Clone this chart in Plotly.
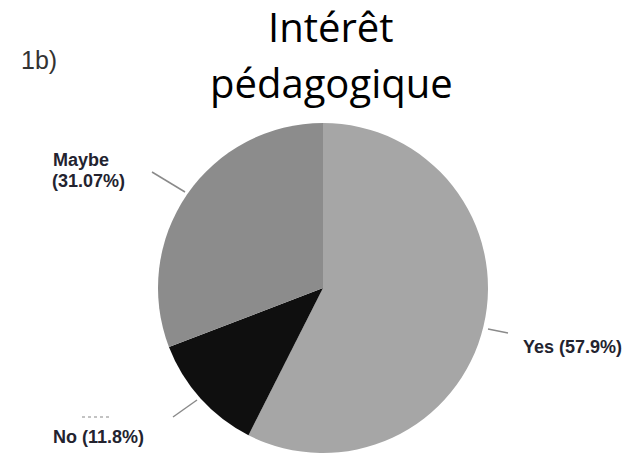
import plotly.graph_objects as go

labels = ["Yes", "No", "Maybe"]
values = [57.9, 11.8, 31.07]
colors = ["#a6a6a6", "#0f0f0f", "#8c8c8c"]
title_lines = ["Intérêt", "pédagogique"]
panel_label = "1b)"

W, H = 631, 453

def px(x):
    return x / W

def py(y):
    return 1 - y / H

fig = go.Figure(go.Pie(
    labels=labels, values=values, sort=False, direction="clockwise",
    rotation=0, marker=dict(colors=colors, line=dict(width=0)),
    textinfo="none", hoverinfo="label+percent", showlegend=False,
    domain=dict(x=[px(323 - 165), px(323 + 165)], y=[py(288 + 165), py(288 - 165)]),
))

lab_font = dict(family="Liberation Sans", size=18, color="#23232f")

def label(x, y, txt):
    fig.add_annotation(x=px(x), y=py(y), xref="paper", yref="paper", xanchor="left", yanchor="middle",
                       text="<b>" + txt + "</b>", showarrow=False, align="left", font=lab_font)

lab = {l: (l, f"({v}%)") for l, v in zip(labels, values)}
label(51, 160, lab["Maybe"][0])
label(50, 181, lab["Maybe"][1])
label(521, 347, lab["Yes"][0] + " " + lab["Yes"][1])
label(51, 437, lab["No"][0] + " " + lab["No"][1])

lead = dict(color="#8a8a8a", width=1.5)
for (x0, y0, x1, y1) in [(152, 172, 185, 192), (488, 329, 508, 333), (173, 417, 197, 400)]:
    fig.add_shape(type="line", xref="paper", yref="paper", x0=px(x0), y0=py(y0), x1=px(x1), y1=py(y1), line=lead)
fig.add_shape(type="line", xref="paper", yref="paper", x0=px(82), y0=py(417), x1=px(110), y1=py(417),
              line=dict(color="#b0b0b0", width=1.5, dash="dot"))

tfont = dict(family="Open Sans", size=40, color="#000000")
fig.add_annotation(x=px(331), y=py(27), xref="paper", yref="paper", xanchor="center", yanchor="middle",
                   text=title_lines[0], showarrow=False, font=tfont)
fig.add_annotation(x=px(331), y=py(82), xref="paper", yref="paper", xanchor="center", yanchor="middle",
                   text=title_lines[1], showarrow=False, font=tfont)
fig.add_annotation(x=px(19), y=py(60), xref="paper", yref="paper", xanchor="left", yanchor="middle",
                   text=panel_label, showarrow=False, font=dict(family="Liberation Sans", size=25, color="#333333"))

fig.update_layout(width=W, height=H, margin=dict(l=0, r=0, t=0, b=0),
                  paper_bgcolor="white", plot_bgcolor="white")
fig.write_html("out.html", config={"displayModeBar": False},
               post_script="document.body.style.margin='0';")
